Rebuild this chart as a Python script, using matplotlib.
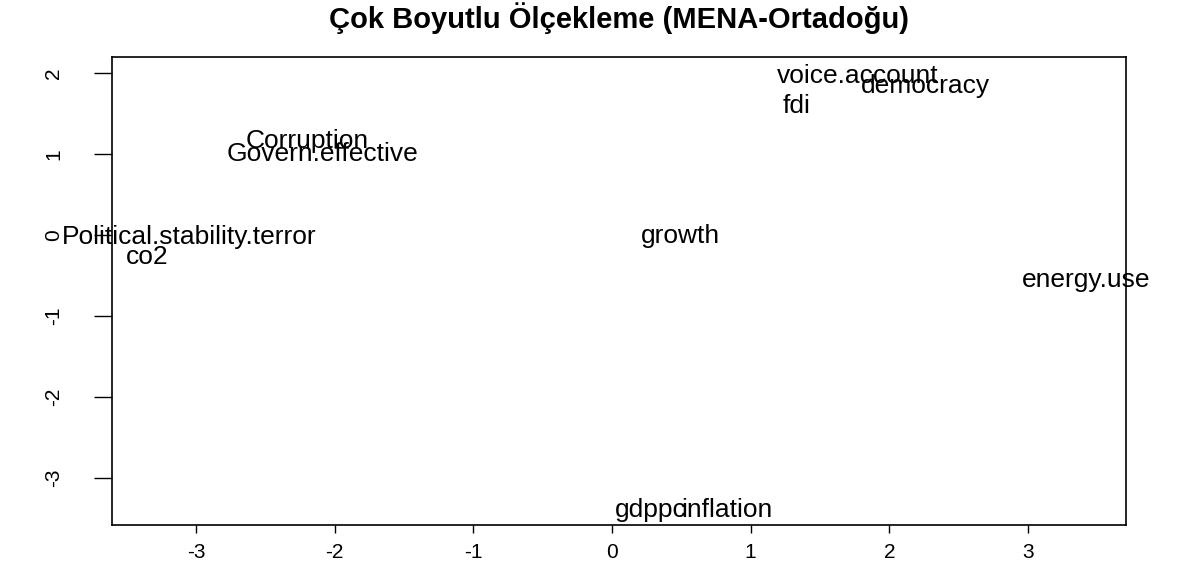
import matplotlib
matplotlib.use('Agg')
import matplotlib.pyplot as plt

plt.rcParams['font.family'] = ['Liberation Sans', 'DejaVu Sans']

# MDS coordinates
labels = ['voice.account', 'democracy', 'fdi', 'Corruption', 'Govern.effective',
          'Political.stability.terror', 'co2', 'growth', 'energy.use',
          'gdppc', 'inflation']
dim1 = [1.77, 2.26, 1.33, -2.20, -2.09, -3.05, -3.35, 0.49, 3.42, 0.28, 0.83]
dim2 = [1.97, 1.84, 1.59, 1.16, 1.00, -0.02, -0.27, -0.01, -0.56, -3.40, -3.40]

xticks = [-3, -2, -1, 0, 1, 2, 3]
yticks = [-3, -2, -1, 0, 1, 2]

fig = plt.figure(figsize=(11.85, 5.73), dpi=100)
ax = fig.add_axes([0.0945, 0.0838, 0.8557, 0.8167])

for lab, x, y in zip(labels, dim1, dim2):
    ax.text(x, y, lab, ha='center', va='center', fontsize=19, clip_on=False, zorder=1)

ax.set_xlim(-3.605, 3.706)
ax.set_ylim(-3.58, 2.20)
ax.set_xticks(xticks)
ax.set_yticks(yticks)
ax.set_xticklabels([str(t) for t in xticks], fontsize=15)
ax.set_yticklabels([str(t) for t in yticks], fontsize=15, rotation=90, va='center')
ax.tick_params(axis='x', direction='out', length=6, width=1, pad=7)
ax.tick_params(axis='y', direction='out', length=13, width=1, pad=22)
for s in ax.spines.values():
    s.set_linewidth(1.2)
    s.set_zorder(3)

fig.text(0.522, 0.969, 'Çok Boyutlu Ölçekleme (MENA-Ortadoğu)', fontsize=21,
         fontweight='bold', ha='center', va='center')

fig.savefig('out.png', dpi=100)
